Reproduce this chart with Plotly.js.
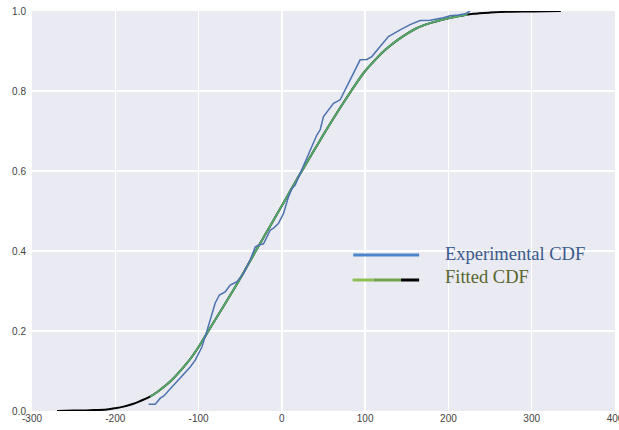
<!DOCTYPE html>
<html>
<head>
<meta charset="utf-8">
<script src="https://cdn.plot.ly/plotly-3.0.1.min.js"></script>
<style>html,body{margin:0;padding:0;background:#fff;}#chart{width:619px;height:430px;}</style>
</head>
<body>
<div id="chart"></div>
<script>
// Fitted CDF over the full range (black)
const fullX = [-270, -250, -230, -210, -200, -190, -180, -170, -160, -150, -140, -130, -120, -110, -100, -90, -80, -70, -60, -50, -40, -30, -20, -10, 0, 10, 20, 30, 40, 50, 60, 70, 80, 90, 100, 110, 120, 130, 140, 150, 160, 170, 180, 190, 200, 210, 220, 230, 250, 270, 300, 335];
const fullY = [0.000, 0.001, 0.002, 0.004, 0.007, 0.011, 0.017, 0.025, 0.034, 0.047, 0.063, 0.082, 0.105, 0.130, 0.160, 0.194, 0.228, 0.262, 0.296, 0.331, 0.368, 0.405, 0.441, 0.477, 0.513, 0.550, 0.586, 0.621, 0.656, 0.691, 0.725, 0.758, 0.790, 0.821, 0.850, 0.873, 0.895, 0.913, 0.929, 0.943, 0.955, 0.964, 0.971, 0.977, 0.982, 0.986, 0.990, 0.993, 0.996, 0.998, 0.999, 1.000];

// Fitted CDF over the experimental range (green)
const fitX = [-158, -150, -140, -130, -120, -110, -100, -90, -80, -70, -60, -50, -40, -30, -20, -10, 0, 10, 20, 30, 40, 50, 60, 70, 80, 90, 100, 110, 120, 130, 140, 150, 160, 170, 180, 190, 200, 210, 223];
const fitY = [0.036, 0.047, 0.063, 0.082, 0.105, 0.130, 0.160, 0.194, 0.228, 0.262, 0.296, 0.331, 0.368, 0.405, 0.441, 0.477, 0.513, 0.550, 0.586, 0.621, 0.656, 0.691, 0.725, 0.758, 0.790, 0.821, 0.850, 0.873, 0.895, 0.913, 0.929, 0.943, 0.955, 0.964, 0.971, 0.977, 0.982, 0.986, 0.991];

// Experimental CDF (blue)
const expX = [-160, -152, -146, -142, -132, -122, -110, -104, -96, -90, -85, -80, -75, -68, -62, -54, -46, -38, -32, -28, -22, -14, -10, -4, 2, 8, 12, 16, 22, 30, 38, 42, 46, 50, 62, 70, 82, 94, 102, 108, 118, 128, 142, 154, 166, 178, 194, 202, 212, 220, 226];
const expY = [0.017, 0.017, 0.032, 0.037, 0.060, 0.082, 0.110, 0.127, 0.160, 0.200, 0.236, 0.270, 0.290, 0.298, 0.315, 0.323, 0.344, 0.378, 0.410, 0.415, 0.418, 0.452, 0.457, 0.469, 0.494, 0.536, 0.556, 0.565, 0.594, 0.632, 0.672, 0.690, 0.703, 0.736, 0.769, 0.778, 0.828, 0.878, 0.879, 0.886, 0.911, 0.936, 0.953, 0.966, 0.976, 0.977, 0.983, 0.988, 0.990, 0.993, 1.000];

const xTickVals = [-300, -200, -100, 0, 100, 200, 300, 400];
const xTickText = ['-300', '-200', '-100', '0', '100', '200', '300', '400'];
const yTickVals = [0, 0.2, 0.4, 0.6, 0.8, 1.0];
const yTickText = ['0.0', '0.2', '0.4', '0.6', '0.8', '1.0'];

const legendLabels = ['Experimental CDF', 'Fitted CDF'];

const traces = [
  {x: fullX, y: fullY, mode: 'lines', line: {color: '#000000', width: 2, shape: 'spline'}, hoverinfo: 'skip'},
  {x: fitX, y: fitY, mode: 'lines', line: {color: '#55A868', width: 2, shape: 'spline'}, hoverinfo: 'skip'},
  {x: expX, y: expY, mode: 'lines', line: {color: '#4C72B0', width: 1.5}, hoverinfo: 'skip'}
];

const axisFont = {family: 'Liberation Sans, Arial, sans-serif', size: 10, color: '#444444'};

const layout = {
  width: 619, height: 430,
  margin: {l: 31.5, r: 3.5, t: 11, b: 19, pad: 0},
  paper_bgcolor: '#ffffff',
  plot_bgcolor: '#EAEAF2',
  showlegend: false,
  xaxis: {
    range: [-300, 400], tickvals: xTickVals, ticktext: xTickText,
    showgrid: true, gridcolor: '#ffffff', gridwidth: 1.3, zeroline: false,
    showline: false, ticks: '', tickfont: axisFont, ticklabeloverflow: 'allow', fixedrange: true
  },
  yaxis: {
    range: [0, 1], tickvals: yTickVals, ticktext: yTickText,
    showgrid: true, gridcolor: '#ffffff', gridwidth: 1.3, zeroline: false,
    showline: false, ticks: '', tickfont: axisFont, ticklabelstandoff: 5, ticklabeloverflow: 'allow', fixedrange: true
  },
  shapes: [
    {type: 'line', xref: 'paper', yref: 'paper', x0: 0.551, x1: 0.664, y0: 0.39, y1: 0.39, line: {color: '#4A86C8', width: 3}},
    {type: 'line', xref: 'paper', yref: 'paper', x0: 0.550, x1: 0.586, y0: 0.3275, y1: 0.3275, line: {color: '#8CC152', width: 3}},
    {type: 'line', xref: 'paper', yref: 'paper', x0: 0.586, x1: 0.633, y0: 0.3275, y1: 0.3275, line: {color: '#6FA24A', width: 3}},
    {type: 'line', xref: 'paper', yref: 'paper', x0: 0.633, x1: 0.664, y0: 0.3275, y1: 0.3275, line: {color: '#000000', width: 3}}
  ],
  annotations: [
    {xref: 'paper', yref: 'paper', x: 0.705, y: 0.392, xanchor: 'left', yanchor: 'middle', showarrow: false,
     text: legendLabels[0], font: {family: 'Liberation Serif, Times New Roman, serif', size: 18.5, color: '#3A5A8C'}},
    {xref: 'paper', yref: 'paper', x: 0.705, y: 0.336, xanchor: 'left', yanchor: 'middle', showarrow: false,
     text: legendLabels[1], font: {family: 'Liberation Serif, Times New Roman, serif', size: 18.5, color: '#56652E'}}
  ]
};

Plotly.newPlot('chart', traces, layout, {staticPlot: true, displayModeBar: false});
</script>
</body>
</html>
